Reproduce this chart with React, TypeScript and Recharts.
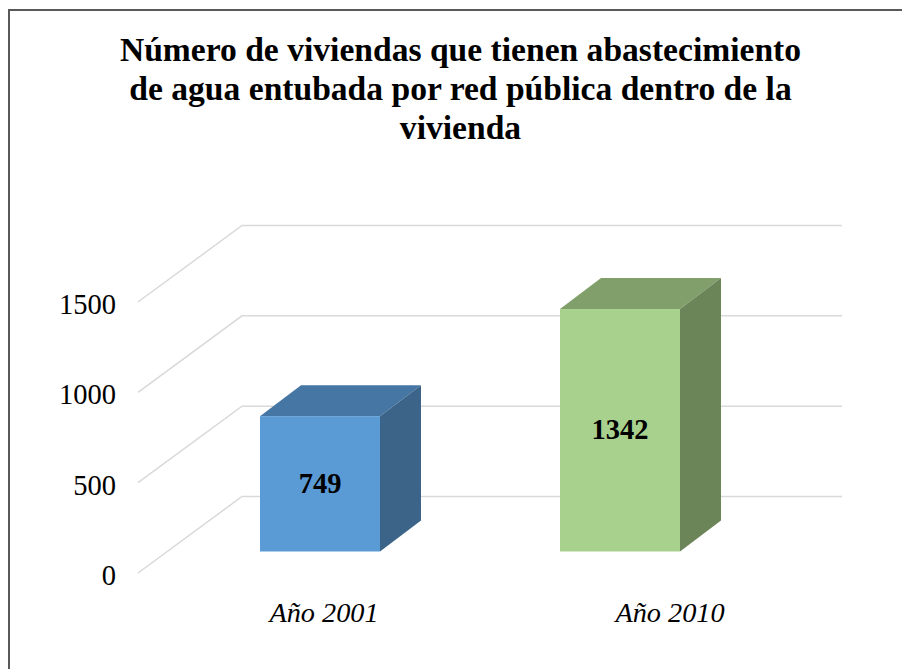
import React from "react";
import { BarChart, Bar, XAxis, YAxis, CartesianGrid, LabelList } from "recharts";

const categories = ["Año 2001", "Año 2010"];
const viviendas = [749, 1342];
const yTicks = [0, 500, 1000, 1500];
const titleLines = [
  "Número de viviendas que tienen abastecimiento",
  "de agua entubada por red pública dentro de la",
  "vivienda",
];

const frontColors = ["#5B9BD5", "#A9D18E"];
const topColors = ["#4676A3", "#809F6B"];
const sideColors = ["#3B6488", "#6B8558"];

const data = categories.map((name, i) => ({ name, value: viviendas[i] }));

const SERIF = '"Liberation Serif", "Times New Roman", serif';

// the fake 3D depth: back wall offset, where the bars stand, and bar thickness
const WALL_DX = 104;
const WALL_DY = 76.5;
const BAR_SHIFT_X = 32;
const BAR_SHIFT_Y = 21.5;
const BAR_DX = 41;
const BAR_DY = 31;

// the x labels do not sit under the bars in the original
const labelShift = [36, 82];

const renderGridLine = (props: any) => {
  const { x1, x2, y1, index } = props;
  const backY = y1 - WALL_DY;
  return (
    <polyline
      key={index}
      points={`${x1},${y1} ${x1 + WALL_DX},${backY} ${x2 + WALL_DX},${backY}`}
      fill="none"
      stroke="#D9D9D9"
      strokeWidth={1.5}
    />
  );
};

const Bar3D = (props: any) => {
  const { x, y, width, height, index } = props;
  const left = x + BAR_SHIFT_X;
  const right = left + width;
  const top = y - BAR_SHIFT_Y;
  const bottom = top + height;
  return (
    <g>
      <polygon
        points={`${left},${top} ${left + BAR_DX},${top - BAR_DY} ${right + BAR_DX},${top - BAR_DY} ${right},${top}`}
        fill={topColors[index]}
      />
      <polygon
        points={`${right},${top} ${right + BAR_DX},${top - BAR_DY} ${right + BAR_DX},${bottom - BAR_DY} ${right},${bottom}`}
        fill={sideColors[index]}
      />
      <rect x={left} y={top} width={width} height={height} fill={frontColors[index]} />
    </g>
  );
};

const renderValue = (props: any) => {
  const { x, y, width, height, value } = props;
  return (
    <text
      x={x + BAR_SHIFT_X + width / 2}
      y={y - BAR_SHIFT_Y + height / 2 + 9}
      textAnchor="middle"
      fontFamily={SERIF}
      fontWeight="bold"
      fontSize={28.5}
      fill="#000"
    >
      {value}
    </text>
  );
};

const CategoryTick = (props: any) => {
  const { x, payload, index } = props;
  return (
    <text
      x={x + labelShift[index]}
      y={622}
      textAnchor="middle"
      fontFamily={SERIF}
      fontStyle="italic"
      fontSize={28.3}
      fill="#000"
    >
      {payload.value}
    </text>
  );
};

const App: React.FC = () => {
  return (
    <div style={{ position: "fixed", left: 0, top: 0, width: 902, height: 669, overflow: "hidden", background: "#fff" }}>
      <div
        style={{
          position: "absolute",
          left: 8,
          top: 9,
          width: 1000,
          height: 1000,
          borderLeft: "2px solid #595959",
          borderTop: "2px solid #595959",
        }}
      />
      <div
        style={{
          position: "absolute",
          left: 0,
          top: 30,
          width: 921,
          textAlign: "center",
          fontFamily: SERIF,
          fontWeight: "bold",
          fontSize: 33.6,
          lineHeight: "39px",
          color: "#000",
        }}
      >
        {titleLines.map((line) => (
          <div key={line}>{line}</div>
        ))}
      </div>
      <div style={{ position: "absolute", left: 0, top: 0 }}>
        <BarChart
          width={902}
          height={669}
          data={data}
          margin={{ top: 302, right: 164, bottom: 0, left: 78 }}
          style={{ overflow: "visible" }}
        >
          <CartesianGrid vertical={false} horizontal={renderGridLine} />
          <XAxis dataKey="name" height={96} axisLine={false} tickLine={false} tick={<CategoryTick />} interval={0} />
          <YAxis
            width={60}
            domain={[0, 1500]}
            ticks={yTicks}
            interval={0}
            axisLine={false}
            tickLine={false}
            tickSize={0}
            tickMargin={22}
            tick={{ fontFamily: SERIF, fontSize: 28.5, fill: "#000", dy: 2 }}
          />
          <Bar dataKey="value" barSize={120} shape={<Bar3D />} isAnimationActive={false}>
            <LabelList dataKey="value" content={renderValue} />
          </Bar>
        </BarChart>
      </div>
    </div>
  );
};

export default App;
